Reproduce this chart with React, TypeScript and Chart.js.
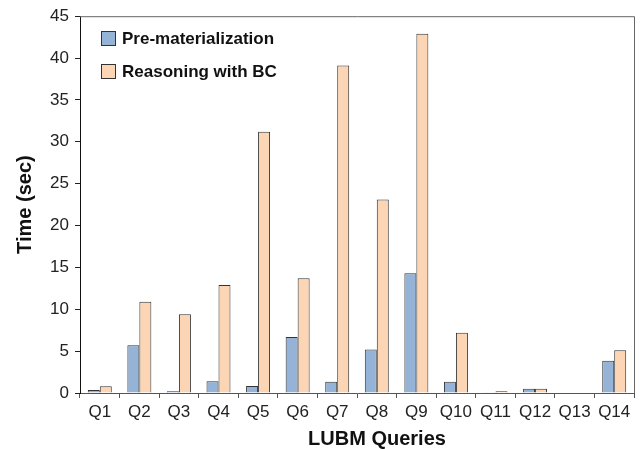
import React, { useEffect, useRef } from "react";
import { Chart, registerables } from "chart.js";

Chart.register(...registerables);

const categories = ["Q1", "Q2", "Q3", "Q4", "Q5", "Q6", "Q7", "Q8", "Q9", "Q10", "Q11", "Q12", "Q13", "Q14"];
const preMaterialization = [0.35, 5.7, 0.2, 1.4, 0.85, 6.7, 1.35, 5.2, 14.3, 1.35, 0.1, 0.5, 0.05, 3.85];
const reasoningWithBC = [0.8, 10.9, 9.4, 12.9, 31.2, 13.7, 39.1, 23.1, 42.9, 7.2, 0.2, 0.5, 0.05, 5.1];
const seriesLabels = ["Pre-materialization", "Reasoning with BC"];
const yTitle = "Time (sec)";
const xTitle = "LUBM Queries";

const FONT = 'Arial, "Liberation Sans", sans-serif';

const framePlugin = {
  id: "frameAndLegend",
  afterDraw(chart: any) {
    const { ctx, chartArea } = chart;
    const { left, right, top, bottom } = chartArea;
    ctx.save();
    // top & right frame
    ctx.strokeStyle = "#666";
    ctx.lineWidth = 1;
    ctx.beginPath();
    ctx.moveTo(left, top + 0.5);
    ctx.lineTo(right + 0.5, top + 0.5);
    ctx.lineTo(right + 0.5, bottom);
    ctx.stroke();

    // legend inside chart area
    const ds = chart.data.datasets;
    const boxX = 101;
    const boxSize = 14;
    const rowsY = [38, 71];
    ctx.font = `bold 17px ${FONT}`;
    ctx.textBaseline = "middle";
    ctx.textAlign = "left";
    ds.forEach((d: any, i: number) => {
      const cy = rowsY[i];
      ctx.fillStyle = d.backgroundColor;
      ctx.fillRect(boxX, cy - boxSize / 2, boxSize, boxSize);
      ctx.strokeStyle = "#333";
      ctx.strokeRect(boxX + 0.5, cy - boxSize / 2 + 0.5, boxSize, boxSize);
      ctx.fillStyle = "#111";
      ctx.fillText(d.label, 122, cy + 1);
    });

    // x axis title
    ctx.font = `bold 20px ${FONT}`;
    ctx.textAlign = "center";
    ctx.fillStyle = "#111";
    ctx.fillText(xTitle, (left + right) / 2 + 20, 439);
    ctx.restore();
  },
};

export default function App() {
  const ref = useRef<HTMLCanvasElement | null>(null);
  useEffect(() => {
    if (!ref.current) return;
    const chart = new Chart(ref.current, {
      type: "bar",
      data: {
        labels: categories,
        datasets: [
          {
            label: seriesLabels[0],
            data: preMaterialization,
            backgroundColor: "#95B3D7",
            borderColor: "#333",
            borderWidth: 1,
            categoryPercentage: 0.606,
            barPercentage: 1.0,
          },
          {
            label: seriesLabels[1],
            data: reasoningWithBC,
            backgroundColor: "#FCD5B5",
            borderColor: "#333",
            borderWidth: 1,
            categoryPercentage: 0.606,
            barPercentage: 1.0,
          },
        ],
      },
      options: {
        responsive: false,
        animation: false,
        layout: { padding: { top: 15, right: 6, left: 0, bottom: 0 } },
        plugins: {
          legend: { display: false },
          tooltip: { enabled: false },
        },
        scales: {
          x: {
            grid: {
              display: true,
              drawOnChartArea: false,
              drawTicks: true,
              tickLength: 5,
              color: "#555",
              offset: true,
            },
            border: { color: "#555", width: 1 },
            ticks: {
              color: "#222",
              font: { family: FONT, size: 17 },
              padding: 4,
              maxRotation: 0,
              autoSkip: false,
            },
            afterFit: (scale: any) => {
              scale.height = 56;
            },
          },
          y: {
            min: 0,
            max: 45,
            grid: {
              display: true,
              drawOnChartArea: false,
              drawTicks: true,
              tickLength: 5,
              color: "#222",
            },
            border: { color: "#111", width: 1 },
            ticks: {
              stepSize: 5,
              color: "#222",
              font: { family: FONT, size: 17 },
              padding: 6,
            },
            title: {
              display: true,
              text: yTitle,
              color: "#111",
              font: { family: FONT, size: 20, weight: "bold" },
              padding: { top: 13, bottom: 0 },
            },
            afterFit: (scale: any) => {
              scale.width = 80;
            },
          },
        },
      },
      plugins: [framePlugin],
    });
    return () => chart.destroy();
  }, []);
  return (
    <div style={{ position: "absolute", left: 0, top: 0, width: 640, height: 449, background: "#fff" }}>
      <canvas ref={ref} width={640} height={449} />
    </div>
  );
}
